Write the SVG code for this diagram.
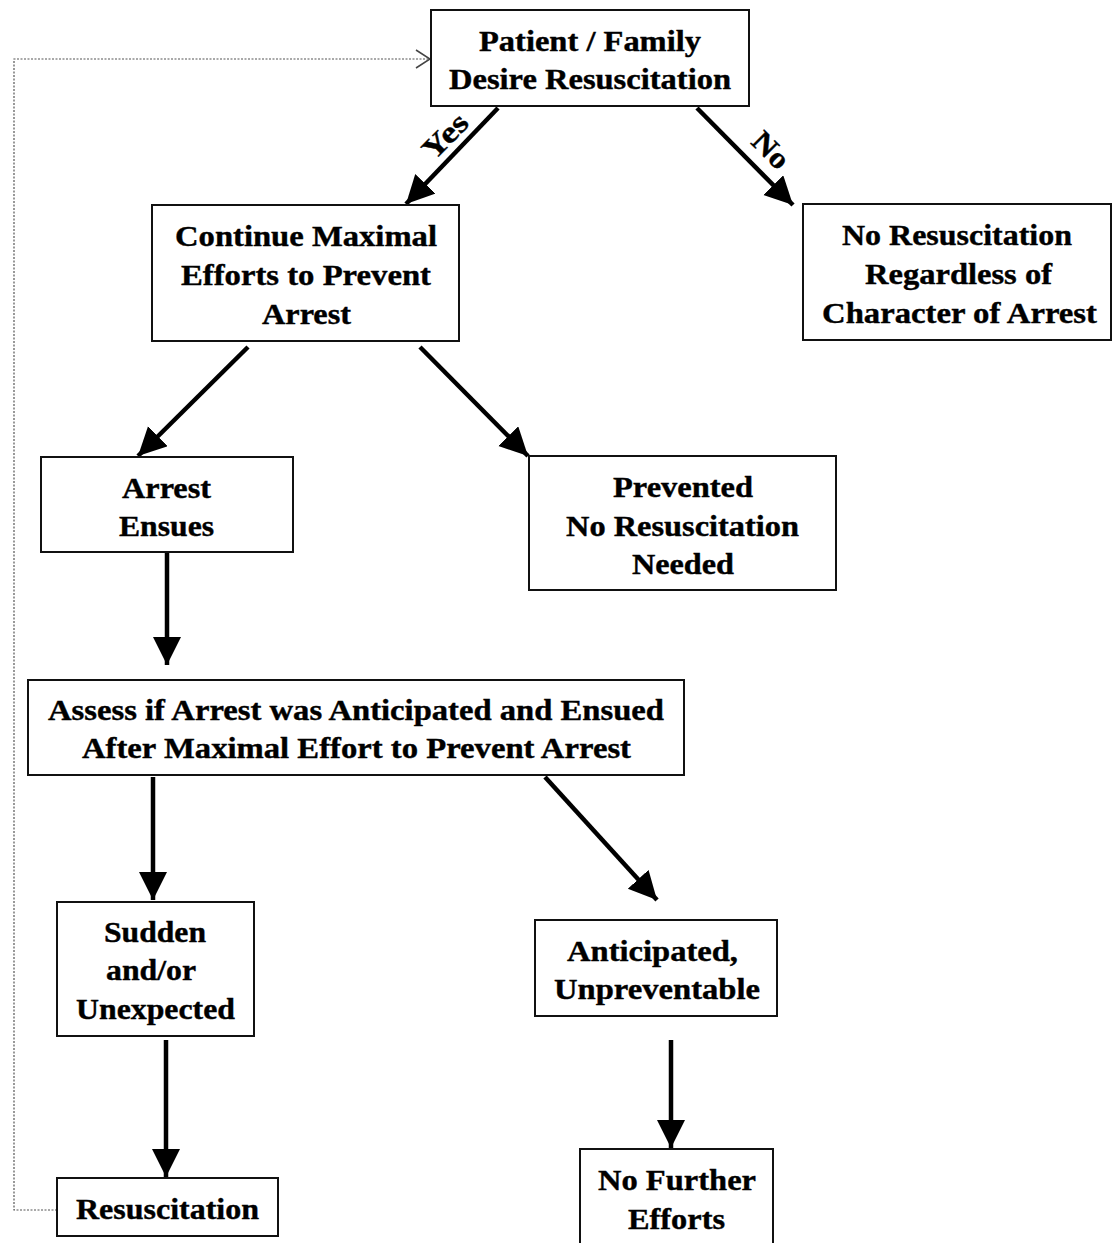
<svg xmlns="http://www.w3.org/2000/svg" width="1113" height="1243" viewBox="0 0 1113 1243">
<style>
.box{fill:#fff;stroke:#111;stroke-width:2}
.t{font-family:"Liberation Serif","Times New Roman",serif;font-weight:bold;font-size:30px;fill:#000;stroke:#000;stroke-width:0.4;text-anchor:middle}
.c{stroke:#000;stroke-width:4.5;fill:none}
.d{stroke:#555;stroke-width:1.2;fill:none;stroke-dasharray:2 1.5}
</style>
<defs>
<marker id="ah" markerUnits="userSpaceOnUse" markerWidth="30" markerHeight="30" refX="28" refY="14" orient="auto">
<path d="M0,0 L28,14 L0,28 z" fill="#000"/>
</marker>
</defs>
<rect width="1113" height="1243" fill="#fff"/>
<g id="connectors">
<line class="c" x1="498" y1="108" x2="406" y2="204" marker-end="url(#ah)"/>
<line class="c" x1="697" y1="108" x2="793" y2="205" marker-end="url(#ah)"/>
<line class="c" x1="248" y1="347" x2="138" y2="456" marker-end="url(#ah)"/>
<line class="c" x1="420" y1="347" x2="528" y2="456" marker-end="url(#ah)"/>
<line class="c" x1="167" y1="553" x2="167" y2="665" marker-end="url(#ah)"/>
<line class="c" x1="153" y1="777" x2="153" y2="900" marker-end="url(#ah)"/>
<line class="c" x1="545" y1="777" x2="657" y2="900" marker-end="url(#ah)"/>
<line class="c" x1="166" y1="1040" x2="166" y2="1177" marker-end="url(#ah)"/>
<line class="c" x1="671" y1="1040" x2="671" y2="1148" marker-end="url(#ah)"/>
<polyline class="d" points="57,1210 14,1210 14,59 430,59"/>
<polyline points="416,50 430,59 416,68" fill="none" stroke="#444" stroke-width="1.5"/>
<text class="t" transform="translate(445,136) rotate(-45)" dy="10" textLength="52" lengthAdjust="spacingAndGlyphs">Yes</text>
<text class="t" transform="translate(771,150) rotate(45)" dy="10" textLength="40" lengthAdjust="spacingAndGlyphs">No</text>
</g>
<g id="n1"><rect class="box" x="431" y="10" width="318" height="96"/>
<text class="t" x="590" y="51" textLength="222" lengthAdjust="spacingAndGlyphs">Patient / Family</text><text class="t" x="590" y="89" textLength="282" lengthAdjust="spacingAndGlyphs">Desire Resuscitation</text></g>
<g id="n2"><rect class="box" x="152" y="205" width="307" height="136"/>
<text class="t" x="306" y="246" textLength="262" lengthAdjust="spacingAndGlyphs">Continue Maximal</text><text class="t" x="306" y="285" textLength="250" lengthAdjust="spacingAndGlyphs">Efforts to Prevent</text><text class="t" x="306.5" y="324" textLength="89" lengthAdjust="spacingAndGlyphs">Arrest</text></g>
<g id="n3"><rect class="box" x="803" y="204" width="308" height="136"/>
<text class="t" x="957" y="245" textLength="230" lengthAdjust="spacingAndGlyphs">No Resuscitation</text><text class="t" x="958.5" y="284" textLength="187" lengthAdjust="spacingAndGlyphs">Regardless of</text><text class="t" x="959.5" y="323" textLength="275" lengthAdjust="spacingAndGlyphs">Character of Arrest</text></g>
<g id="n4"><rect class="box" x="41" y="457" width="252" height="95"/>
<text class="t" x="166.5" y="498" textLength="89" lengthAdjust="spacingAndGlyphs">Arrest</text><text class="t" x="166.5" y="536" textLength="95" lengthAdjust="spacingAndGlyphs">Ensues</text></g>
<g id="n5"><rect class="box" x="529" y="456" width="307" height="134"/>
<text class="t" x="683" y="497" textLength="140" lengthAdjust="spacingAndGlyphs">Prevented</text><text class="t" x="682.5" y="536" textLength="233" lengthAdjust="spacingAndGlyphs">No Resuscitation</text><text class="t" x="683" y="574" textLength="102" lengthAdjust="spacingAndGlyphs">Needed</text></g>
<g id="n6"><rect class="box" x="28" y="680" width="656" height="95"/>
<text class="t" x="356" y="720" textLength="616" lengthAdjust="spacingAndGlyphs">Assess if Arrest was Anticipated and Ensued</text><text class="t" x="356.5" y="758" textLength="549" lengthAdjust="spacingAndGlyphs">After Maximal Effort to Prevent Arrest</text></g>
<g id="n7"><rect class="box" x="57" y="902" width="197" height="134"/>
<text class="t" x="155" y="942" textLength="102" lengthAdjust="spacingAndGlyphs">Sudden</text><text class="t" x="151" y="980" textLength="90" lengthAdjust="spacingAndGlyphs">and/or</text><text class="t" x="155.5" y="1019" textLength="159" lengthAdjust="spacingAndGlyphs">Unexpected</text></g>
<g id="n8"><rect class="box" x="535" y="920" width="242" height="96"/>
<text class="t" x="652.5" y="961" textLength="171" lengthAdjust="spacingAndGlyphs">Anticipated,</text><text class="t" x="657" y="999" textLength="206" lengthAdjust="spacingAndGlyphs">Unpreventable</text></g>
<g id="n9"><rect class="box" x="57" y="1178" width="221" height="58"/>
<text class="t" x="167.5" y="1219" textLength="183" lengthAdjust="spacingAndGlyphs">Resuscitation</text></g>
<g id="n10"><rect class="box" x="580" y="1149" width="193" height="100"/>
<text class="t" x="677" y="1190" textLength="158" lengthAdjust="spacingAndGlyphs">No Further</text><text class="t" x="676.5" y="1229" textLength="97" lengthAdjust="spacingAndGlyphs">Efforts</text></g>
</svg>
